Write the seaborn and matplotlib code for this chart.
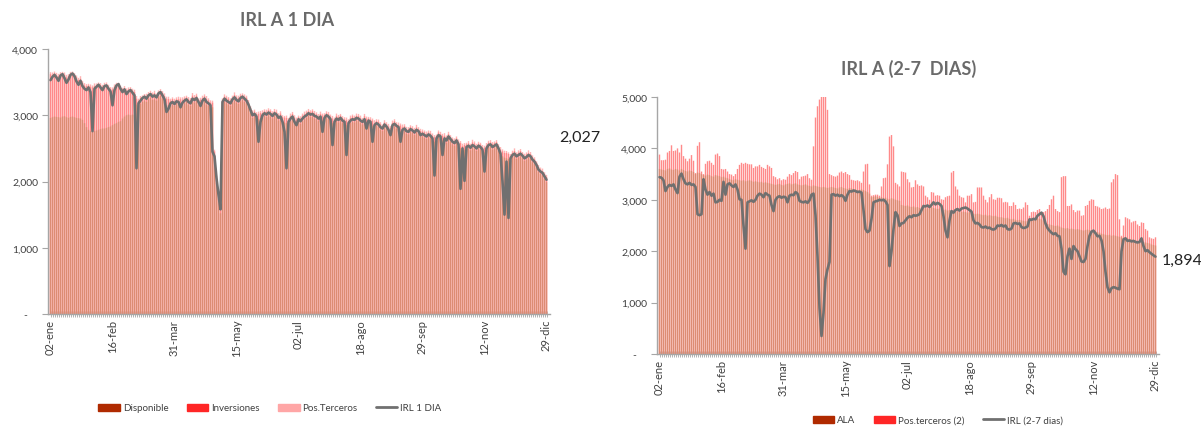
import numpy as np
import matplotlib
matplotlib.use('Agg')
import matplotlib.pyplot as plt
import seaborn as sns
from matplotlib.patches import Patch
from matplotlib.lines import Line2D
from matplotlib.ticker import FuncFormatter

sns.set_style("ticks")
plt.rcParams['font.family'] = ['Lato', 'DejaVu Sans']

# etiquetas del eje x (una cada 31 dias habiles)
fechas = ['02-ene', '16-feb', '31-mar', '15-may', '02-jul', '18-ago', '29-sep', '12-nov', '29-dic']
fecha_pos = [0, 31, 62, 93, 124, 155, 186, 217, 248]

# ---------------- IRL A 1 DIA ----------------
irl_1dia = [
    3530, 3580, 3610, 3570, 3520, 3600, 3620, 3560, 3490, 3540, 3610, 3630, 3590, 3510, 3460,
    3520, 3440, 3400, 3380, 3420, 3350,
    2760,
    3400, 3430, 3460, 3420, 3380, 3440, 3450, 3400, 3360,
    3150,
    3380, 3450, 3470, 3400,
    3350, 3390, 3320, 3360, 3380, 3340, 3300,
    2200,
    3180, 3220, 3260, 3280, 3250, 3300, 3320, 3280, 3300, 3270, 3330, 3350, 3300, 3240,
    3050, 3100,
    3180, 3200, 3170, 3210, 3200, 3120, 3190, 3220, 3240, 3200, 3180, 3250, 3230, 3260, 3200, 3140, 3220, 3250, 3200, 3180, 3150,
    2450, 2380, 2050, 1800, 1580, 3200,
    3250, 3220, 3200, 3180, 3240, 3270, 3230, 3210, 3260, 3280, 3250, 3220, 3160, 3080,
    3000, 3020, 2980, 2600, 2900,
    3000, 3030, 3010, 3040, 3020, 2990, 3030, 3010, 2960, 2980,
    2900, 2750, 2200, 2900, 2950, 2980, 2900, 2850, 2940,
    2910, 2950, 2980, 3000, 3030, 3010, 3020, 2990, 2980, 2950, 2980, 2750, 2960, 3000, 2980, 2940, 2550, 2900, 2950, 2930, 2960, 2920, 2900, 2400,
    2880, 2920, 2940, 2930, 2960, 2950, 2920, 2900, 2940, 2800, 2920, 2900,
    2600, 2850, 2880, 2860, 2820, 2800, 2860, 2830, 2780, 2700,
    2850, 2870, 2840, 2820, 2600,
    2780, 2800, 2760, 2750, 2790, 2770, 2740, 2780, 2760, 2700,
    2720, 2700, 2680, 2710, 2690, 2650, 2090,
    2650, 2700, 2680, 2400, 2650, 2620, 2680, 2640, 2600, 2580, 2620, 2560,
    1890, 2500, 2010,
    2520, 2540, 2510, 2550, 2530, 2500, 2540, 2520, 2480,
    2150,
    2500, 2550, 2560, 2520, 2540, 2560, 2500, 2420,
    2000, 1500, 2300, 1450,
    2350, 2400, 2420, 2380, 2400, 2420, 2390, 2350, 2370, 2400, 2380,
    2330, 2300, 2250, 2180, 2150, 2130, 2080, 2027,
]

disponible = [
    2960, 2970, 2980, 2975, 2970, 2965, 2980, 2985, 2970, 2960, 2975, 2980, 2970, 2960, 2955, 2950, 2930,
    2880, 2820, 2780, 2760, 2750,
    2760, 2770, 2780, 2790, 2800, 2800, 2810, 2820, 2830,
    2850, 2870, 2880, 2900, 2910,
    2950, 2980, 3000, 3010, 3000, 3010, 3000,
    3160,
    3140, 3170, 3200, 3220, 3200, 3240, 3260, 3230, 3240, 3220, 3270, 3290, 3250, 3200,
    3150, 3150,
    3140, 3160, 3140, 3170, 3160, 3150, 3150, 3180, 3200, 3160, 3140, 3210, 3190, 3220, 3160, 3150, 3180, 3210, 3160, 3140, 3110,
    3120, 2380, 1980, 1740, 1520, 3150,
    3200, 3180, 3160, 3140, 3190, 3220, 3190, 3170, 3210, 3230, 3200, 3180, 3120, 3040,
    2960, 2980, 2950, 2940, 2950,
    2960, 2990, 2970, 3000, 2980, 2950, 2990, 2970, 2920, 2940,
    2900, 2890, 2880, 2860, 2910, 2940, 2880, 2860, 2900,
    2870, 2910, 2940, 2960, 2990, 2970, 2980, 2950, 2940, 2910, 2940, 2920, 2920, 2960, 2940, 2900, 2880, 2860, 2910, 2890, 2920, 2880, 2860, 2850,
    2840, 2880, 2900, 2890, 2920, 2910, 2880, 2860, 2900, 2870, 2880, 2860,
    2840, 2810, 2840, 2820, 2780, 2760, 2820, 2790, 2750, 2740,
    2810, 2830, 2800, 2780, 2760,
    2740, 2760, 2720, 2710, 2750, 2730, 2700, 2740, 2720, 2680,
    2680, 2660, 2640, 2670, 2650, 2610, 2600,
    2610, 2660, 2640, 2620, 2610, 2580, 2640, 2600, 2560, 2540, 2580, 2520,
    2500, 2460, 2480,
    2480, 2500, 2470, 2510, 2490, 2460, 2500, 2480, 2440,
    2440,
    2460, 2510, 2520, 2480, 2500, 2520, 2460, 2400,
    2380, 2360, 2350, 2340,
    2310, 2360, 2380, 2340, 2360, 2380, 2350, 2310, 2330, 2360, 2340,
    2290, 2260, 2210, 2140, 2110, 2090, 2040, 1990,
]

inversiones = [
    660, 640, 650, 625, 620, 655, 650, 625, 600, 630, 645, 650, 640, 610, 575, 600, 560,
    570, 620, 670, 670, 670,
    680, 680, 690, 660, 630, 650, 650, 610, 570,
    540, 560, 580, 550, 500,
    440, 430, 370, 380, 400, 360, 350,
    90, 80, 85, 70, 75, 90, 80, 70, 85, 95, 80, 75, 70, 85, 90, 100, 95, 80, 85, 75,
    70, 80, 90, 85, 75, 70, 80, 90, 85, 80, 75, 70, 85, 80, 75, 90, 85, 80, 70, 75,
    80, 70, 60, 75, 80, 85, 90, 80, 75, 85, 80, 90, 85, 75, 80, 85, 70, 65, 80, 75,
    70, 80, 85, 75, 70, 80, 75, 85, 80, 70, 75, 80, 85, 70, 75, 80, 70, 75, 80, 85,
    75, 70, 80, 85, 75, 80, 70, 75, 85, 80, 75, 70, 80, 75, 85, 70, 75, 80, 70, 75,
    80, 85, 75, 70, 80, 75, 70, 80, 85, 75, 70, 80, 75, 70, 85, 80, 70, 75, 80, 75,
    70, 80, 85, 75, 70, 75, 80, 70, 75, 80, 70, 75, 85, 80, 75, 70, 80, 75, 70, 80,
    75, 70, 80, 75, 85, 80, 70, 75, 80, 70, 75, 80, 75, 70, 80, 85, 75, 70, 80, 75,
    70, 75, 80, 75, 70, 80, 75, 70, 80, 85, 75, 70, 80, 75, 70, 80, 75, 70, 85, 80,
    75, 70, 80, 75, 70, 80, 75, 70, 75, 80, 70, 75, 80, 70, 75, 80, 70, 75, 70, 75,
    70, 75, 70, 65, 70, 75,
]

pos_terceros = [
    30, 35, 30, 40, 35, 30, 25, 35, 40, 30, 35, 30, 25, 30, 35, 40, 30, 35, 30, 25,
    35, 30, 40, 30, 25, 35, 30, 40, 35, 30, 25, 30, 35, 30, 40, 35, 25, 30, 35, 30,
    25, 30, 35, 40, 30, 35, 30, 25, 35, 30, 40, 30, 35, 25, 30, 35, 30, 40, 30, 35,
    30, 25, 35, 30, 40, 30, 35, 30, 25, 35, 30, 40, 35, 30, 25, 30, 35, 30, 40, 30,
    35, 30, 25, 30, 35, 40, 30, 35, 30, 25, 35, 30, 40, 30, 35, 30, 25, 35, 30, 40,
    30, 35, 30, 25, 35, 30, 40, 30, 35, 30, 25, 30, 35, 40, 30, 35, 30, 25, 35, 30,
    40, 30, 35, 30, 25, 35, 30, 40, 30, 35, 30, 25, 35, 30, 40, 35, 30, 25, 30, 35,
    30, 40, 30, 35, 30, 25, 35, 30, 40, 30, 35, 25, 30, 35, 30, 40, 30, 35, 30, 25,
    35, 30, 40, 30, 35, 30, 25, 35, 30, 40, 30, 35, 30, 25, 35, 30, 40, 30, 35, 30,
    25, 35, 30, 40, 30, 35, 30, 25, 35, 30, 40, 35, 30, 25, 30, 35, 30, 40, 30, 35,
    30, 25, 35, 30, 40, 30, 35, 30, 25, 35, 30, 40, 30, 35, 30, 25, 35, 30, 40, 30,
    35, 30, 25, 30, 35, 40, 30, 35, 30, 25, 35, 30, 40, 30, 35, 30, 25, 35, 30, 40,
    30, 35, 30, 25, 35, 30, 40, 30, 35,
]

# ---------------- IRL A (2-7 DIAS) ----------------
irl_27 = [
    3440, 3430, 3380, 3170, 3250, 3290, 3270, 3300, 3200, 3130,
    3450, 3510, 3400, 3320, 3300, 3330, 3290, 3300, 3250, 2720,
    2700, 2720, 3400, 3200, 3100, 3150, 3080, 3120, 2950, 2960,
    3000, 2980, 3350, 3100, 3300, 3320, 3280, 3250, 3300, 3200,
    3010, 3000, 2500, 2050, 2950, 2970, 2990, 2960, 3000, 3080,
    3120, 3100, 3050, 3130, 3100, 3080, 2900, 2780, 3000, 3050,
    3070, 3040, 3060, 3050, 2950, 3080, 3100, 3090, 3150, 3120,
    2980, 2960, 2950, 2970, 2940, 2990, 3100, 3120, 2700, 1900,
    900, 350, 800, 1460, 1650, 1790, 3100, 3110, 3080, 3100,
    3070, 3090, 3060, 2980, 3100, 3170, 3160, 3180, 3170, 3150,
    3160, 3140, 2800, 2430, 2370, 2400, 2630, 2950, 2970, 2980,
    3000, 2990, 3000, 2970, 2900, 1710, 2000, 2430, 2760, 2700,
    2490, 2540, 2550, 2600, 2650, 2680, 2660, 2700, 2690, 2700,
    2720, 2800, 2880, 2870, 2890, 2860, 2900, 2950, 2910, 2940,
    2920, 2880, 2680, 2400, 2270, 2600, 2780, 2750, 2800, 2820,
    2790, 2830, 2840, 2850, 2830, 2800, 2770, 2600, 2540, 2550,
    2520, 2470, 2460, 2480, 2450, 2460, 2430, 2420, 2440, 2500,
    2490, 2510, 2480, 2500, 2430, 2420, 2440, 2540, 2550, 2530,
    2540, 2470, 2450, 2460, 2480, 2620, 2610, 2630, 2620, 2690,
    2720, 2750, 2680, 2540, 2450, 2400, 2360, 2330, 2350, 2300,
    2290, 2050, 1600, 1550, 1900, 2050, 1850, 2100, 2040, 2000,
    1900, 1800, 1790, 1850, 2100, 2300, 2380, 2400, 2350, 2290,
    2300, 2210, 2000, 1600, 1300, 1200, 1280, 1300, 1290, 1270,
    1260, 2000, 2230, 2250, 2200, 2210, 2190, 2200, 2180, 2170,
    2180, 2250, 2100, 2000, 2020, 1980, 1950, 1920, 1894,
]

ala = [
    3600, 3590, 3580, 3570, 3600, 3610, 3590, 3580, 3600, 3590, 3570, 3600, 3580, 3560, 3550, 3570, 3560, 3540, 3500, 3530, 3520,
    3500, 3480, 3470, 3490, 3480, 3460, 3450, 3480, 3470, 3460, 3440, 3450, 3430, 3420, 3400, 3390, 3380,
    3400, 3390, 3380, 3370, 3380, 3360, 3370, 3380, 3370, 3350, 3360, 3350, 3340, 3350, 3330, 3340,
    3330, 3320, 3310, 3300, 3290, 3300, 3310, 3290, 3280, 3300, 3310, 3320, 3300, 3310, 3320, 3300, 3290, 3280, 3290, 3300, 3280, 3270, 3260, 3280, 3270,
    3260, 3250, 3240, 3250, 3240, 3230, 3240, 3250, 3240, 3230, 3220, 3240, 3250, 3230, 3220, 3210, 3230, 3220, 3210, 3200, 3190, 3180, 3200, 3190, 3170,
    3150, 3120, 3050, 3060, 3070, 3060, 3040, 3050, 3030, 3040, 3020, 3010, 3030, 3020, 3000, 2990, 2980,
    2900, 2890, 2880, 2890, 2870, 2860, 2870, 2850, 2860, 2840, 2850, 2860, 2840, 2830, 2850, 2860, 2840, 2830, 2820, 2830, 2810, 2800, 2810, 2790, 2800,
    2790, 2780, 2790, 2770, 2780, 2760, 2770, 2760, 2750, 2760, 2740, 2730, 2720, 2730, 2720, 2710, 2700, 2710, 2690, 2700, 2690, 2680, 2690, 2670, 2660,
    2660, 2650, 2640, 2650, 2630, 2620, 2630, 2610, 2600, 2610, 2600, 2590, 2580, 2590, 2620, 2630, 2640, 2650, 2640, 2630, 2620, 2600, 2540, 2530, 2520, 2510, 2500, 2490, 2500, 2480,
    2460, 2450, 2440, 2450, 2430, 2440, 2430, 2420, 2430, 2420, 2410, 2400, 2410, 2420, 2410, 2400, 2390, 2380, 2370, 2360,
    2340, 2330, 2320, 2310, 2320, 2300, 2310, 2300, 2290, 2280, 2270, 2260, 2270, 2250, 2240, 2230, 2220, 2210, 2200, 2190, 2200, 2180, 2170, 2160, 2150, 2130, 2120, 2110,
]

pos_terceros_2 = [
    280, 180, 190, 210, 320, 340, 470, 370, 360, 410,
    350, 470, 270, 240, 200, 230, 310, 220, 20, 520,
    600, 50, 20, 230, 260, 280, 260, 230, 400, 430,
    390, 160, 140, 170, 130, 100, 100, 80, 100, 210,
    300, 350, 320, 360, 330, 310, 320, 270, 290, 300,
    340, 290, 290, 260, 350, 330, 310, 160, 150, 100,
    110, 90, 120, 90, 140, 180, 180, 210, 240, 240,
    110, 170, 170, 170, 220, 150, 130, 760, 1330, 1560,
    1700, 1760, 1750, 1760, 1520, 260, 230, 220, 220, 250,
    290, 300, 290, 320, 290, 250, 170, 170, 170, 190,
    180, 130, 360, 520, 550, 180, 30, 30, 30, 40,
    40, 210, 390, 390, 670, 1220, 1230, 1020, 330, 310,
    280, 650, 650, 650, 510, 470, 380, 380, 530, 440,
    430, 430, 400, 240, 220, 150, 290, 300, 250, 270,
    250, 200, 200, 240, 280, 280, 740, 780, 470, 430,
    300, 290, 270, 190, 330, 320, 370, 220, 240, 510,
    520, 530, 380, 290, 260, 350, 420, 330, 310, 370,
    380, 370, 300, 320, 300, 250, 260, 320, 290, 220,
    220, 220, 260, 370, 310, 70, 130, 130, 110, 160,
    190, 100, 160, 240, 290, 380, 500, 580, 330, 280,
    280, 980, 1010, 1020, 430, 450, 470, 370, 340, 360,
    370, 280, 300, 470, 480, 570, 610, 610, 500, 500,
    490, 480, 500, 530, 510, 510, 1040, 1090, 1200, 1190,
    340, 30, 240, 390, 390, 380, 330, 360, 380, 320,
    300, 360, 370, 260, 240, 120, 120, 120, 160,
]

N = len(irl_1dia)
for nombre, serie in [('disponible', disponible), ('inversiones', inversiones),
                      ('pos_terceros', pos_terceros), ('irl_27', irl_27),
                      ('ala', ala), ('pos_terceros_2', pos_terceros_2)]:
    assert len(serie) == N, (nombre, len(serie), N)

idx = np.arange(N)

# colores de las barras tal como se ven (barras finas sobre blanco) y de la leyenda
COL_BASE = '#dc8c73'
COL_MEDIO = '#ff8a8a'
COL_TOPE = '#ffb4b4'
COL_LINEA = '#707070'
LEG_OSCURO = '#b02a00'
LEG_ROJO = '#ff2626'
LEG_ROSA = '#ffa6a6'
GRIS_EJE = '#a6a6a6'
TXT = '#404040'

FIG_W, FIG_H = 1201, 427
# 251 unidades -> 502 px (2 px por barra); el medio pixel de desfase deja ver
# la raya blanca entre barras
X0 = -1.25
X1 = X0 + 251
ANCHO_EJE = 2 * (X1 - X0)


def miles(v, pos):
    return '-    ' if v == 0 else f'{v:,.0f}'


def barras_apiladas(ax, capas):
    # capas de abajo hacia arriba; se dibujan de la mas alta a la mas baja
    acum = np.zeros(N)
    tops = []
    for vals, color in capas:
        acum = acum + np.array(vals)
        tops.append((acum.copy(), color))
    for vals, color in reversed(tops):
        sns.barplot(x=idx, y=vals, color=color, width=0.7, saturation=1,
                    linewidth=0, edgecolor='none', errorbar=None, ax=ax)
    for p in ax.patches:
        p.set_snap(False)
        p.set_antialiased(True)


def formato_eje(ax, ymax, paso):
    ax.set_xlim(X0, X1)
    ax.set_ylim(0, ymax)
    ax.set_yticks(np.arange(0, ymax + 1, paso))
    ax.yaxis.set_major_formatter(FuncFormatter(miles))
    ax.set_xticks(fecha_pos)
    ax.set_xticklabels(fechas, rotation=90)
    ax.set_xticks(idx, minor=True)
    ax.tick_params(axis='x', which='both', direction='inout', length=5, width=0.6,
                   color=GRIS_EJE, labelsize=8, labelcolor=TXT, pad=1)
    ax.tick_params(axis='y', direction='out', length=4, width=0.8, color=GRIS_EJE,
                   labelsize=7.5, labelcolor=TXT, pad=3)
    sns.despine(ax=ax)
    for s in ['left', 'bottom']:
        ax.spines[s].set_color(GRIS_EJE)
        ax.spines[s].set_linewidth(1.0)
    ax.set_xlabel('')
    ax.set_ylabel('')


def caja(x_px, y_top_px, y_bot_px):
    return [x_px / FIG_W, 1 - y_bot_px / FIG_H, ANCHO_EJE / FIG_W, (y_bot_px - y_top_px) / FIG_H]


fig = plt.figure(figsize=(FIG_W / 100, FIG_H / 100), dpi=100)

# ---- panel izquierdo
ax1 = fig.add_axes(caja(48, 50, 315))
barras_apiladas(ax1, [(disponible, COL_BASE), (inversiones, COL_MEDIO), (pos_terceros, COL_TOPE)])
sns.lineplot(x=idx, y=irl_1dia, color=COL_LINEA, linewidth=1.9, ax=ax1)
formato_eje(ax1, 4000, 1000)
fig.text(287 / FIG_W, 1 - 21 / FIG_H, 'IRL A 1 DIA', ha='center', va='center',
         fontsize=13, fontweight='bold', color='#6a6a6a')
fig.text(559 / FIG_W, 1 - 138 / FIG_H, f'{irl_1dia[-1]:,}', ha='left', va='center',
         fontsize=11.5, color='#222222')
h1 = [Patch(color=LEG_OSCURO), Patch(color=LEG_ROJO), Patch(color=LEG_ROSA),
      Line2D([0], [0], color=COL_LINEA, linewidth=2)]
fig.legend(h1, ['Disponible', 'Inversiones', 'Pos.Terceros', 'IRL 1 DIA'],
           loc='center', bbox_to_anchor=(270 / FIG_W, 1 - 409 / FIG_H), ncol=4,
           frameon=False, fontsize=7, handlelength=2.2, handleheight=0.75,
           handletextpad=0.3, columnspacing=1.9, labelcolor=TXT)

# ---- panel derecho
ax2 = fig.add_axes(caja(657, 98, 355))
barras_apiladas(ax2, [(ala, COL_BASE), (pos_terceros_2, COL_MEDIO)])
sns.lineplot(x=idx, y=irl_27, color=COL_LINEA, linewidth=1.9, ax=ax2)
formato_eje(ax2, 5000, 1000)
fig.text(909 / FIG_W, 1 - 69 / FIG_H, 'IRL A (2-7  DIAS)', ha='center', va='center',
         fontsize=13, fontweight='bold', color='#6a6a6a')
fig.text(1162 / FIG_W, 1 - 261 / FIG_H, f'{irl_27[-1]:,}', ha='left', va='center',
         fontsize=11.5, color='#222222')
h2 = [Patch(color=LEG_OSCURO), Patch(color=LEG_ROJO),
      Line2D([0], [0], color=COL_LINEA, linewidth=2)]
fig.legend(h2, ['ALA', 'Pos.terceros (2)', 'IRL (2-7 dias)'],
           loc='center', bbox_to_anchor=(938 / FIG_W, 1 - 421 / FIG_H), ncol=3,
           frameon=False, fontsize=7, handlelength=2.2, handleheight=0.75,
           handletextpad=0.3, columnspacing=1.9, labelcolor=TXT)

fig.savefig('out.png', dpi=100)
plt.close(fig)
